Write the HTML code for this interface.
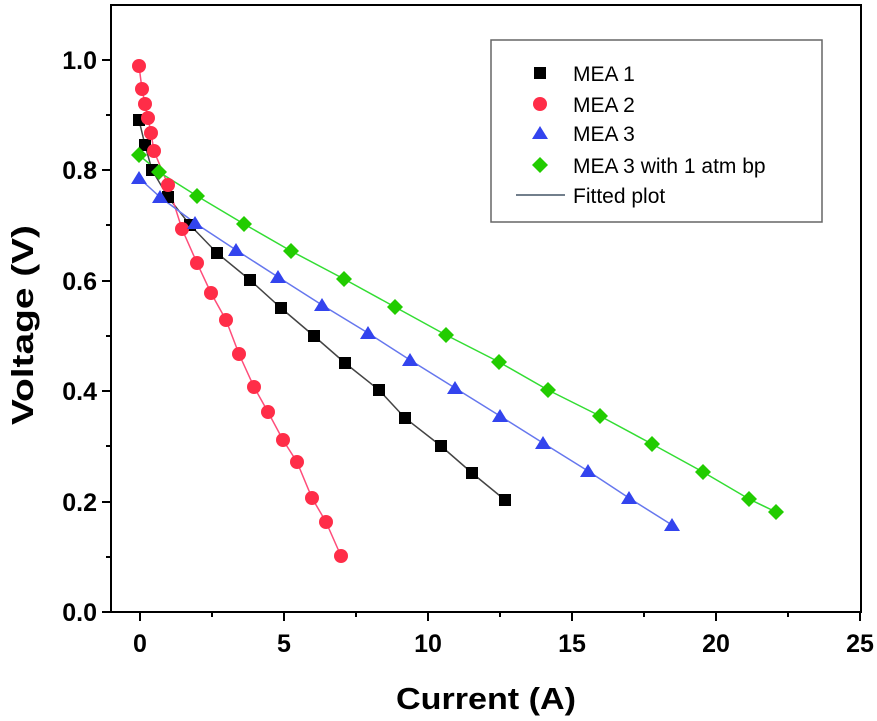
<!DOCTYPE html>
<html><head><style>body{margin:0;background:#fff}svg{display:block}</style></head><body>
<svg width="877" height="721" xmlns="http://www.w3.org/2000/svg" font-family="Liberation Sans, sans-serif">
<rect x="111" y="5" width="750" height="607" fill="none" stroke="#000" stroke-width="2"/>
<g stroke="#000" stroke-width="2">
<line x1="140" y1="612" x2="140" y2="621"/><line x1="284" y1="612" x2="284" y2="621"/><line x1="428" y1="612" x2="428" y2="621"/><line x1="572" y1="612" x2="572" y2="621"/><line x1="716" y1="612" x2="716" y2="621"/><line x1="860" y1="612" x2="860" y2="621"/>
<line x1="212" y1="612" x2="212" y2="617"/><line x1="356" y1="612" x2="356" y2="617"/><line x1="500" y1="612" x2="500" y2="617"/><line x1="644" y1="612" x2="644" y2="617"/><line x1="788" y1="612" x2="788" y2="617"/>
<line x1="102" y1="612" x2="111" y2="612"/><line x1="102" y1="502" x2="111" y2="502"/><line x1="102" y1="391" x2="111" y2="391"/><line x1="102" y1="281" x2="111" y2="281"/><line x1="102" y1="170" x2="111" y2="170"/><line x1="102" y1="60" x2="111" y2="60"/>
<line x1="106" y1="557" x2="111" y2="557"/><line x1="106" y1="446" x2="111" y2="446"/><line x1="106" y1="336" x2="111" y2="336"/><line x1="106" y1="225" x2="111" y2="225"/><line x1="106" y1="115" x2="111" y2="115"/>
</g>
<g font-weight="bold" font-size="25" text-anchor="end">
<text x="97" y="621">0.0</text><text x="97" y="511">0.2</text><text x="97" y="400">0.4</text><text x="97" y="290">0.6</text><text x="97" y="179">0.8</text><text x="97" y="69">1.0</text>
</g>
<g font-weight="bold" font-size="25" text-anchor="middle">
<text x="140" y="652">0</text><text x="284" y="652">5</text><text x="428" y="652">10</text><text x="572" y="652">15</text><text x="716" y="652">20</text><text x="860" y="652">25</text>
</g>
<g font-weight="bold" font-size="31">
<text x="396" y="709" textLength="180" lengthAdjust="spacingAndGlyphs">Current (A)</text>
<text transform="translate(33,425) rotate(-90)" textLength="200" lengthAdjust="spacingAndGlyphs">Voltage (V)</text>
</g>
<polyline fill="none" stroke="#444" stroke-width="1.5" points="139,120 145,145 152,170 168,197 190,225 217,253 250,280 281,308 314,336 345,363 379,390 405,418 441,446 472,473 505,500"/>
<polyline fill="none" stroke="#ff4d7a" stroke-width="1.5" points="139,66 142,89 145,104 148,118 151,133 154,151 168,185 182,229 197,263 211,293 226,320 239,354 254,387 268,412 283,440 297,462 312,498 326,522 341,556"/>
<polyline fill="none" stroke="#6677ee" stroke-width="1.5" points="139,178 160,197 195,223 236,250 278,277 322,305 368,333 410,360 455,388 500,416 543,443 588,471 629,498 672,525"/>
<polyline fill="none" stroke="#33dd33" stroke-width="1.5" points="139,155 159,172 197,196 244,224 291,251 344,279 395,307 446,335 499,362 548,390 600,416 652,444 703,472 749,499 776,512"/>
<g fill="#000">
<rect x="133" y="114" width="12" height="12"/><rect x="139" y="139" width="12" height="12"/><rect x="146" y="164" width="12" height="12"/><rect x="162" y="191" width="12" height="12"/><rect x="184" y="219" width="12" height="12"/><rect x="211" y="247" width="12" height="12"/><rect x="244" y="274" width="12" height="12"/><rect x="275" y="302" width="12" height="12"/><rect x="308" y="330" width="12" height="12"/><rect x="339" y="357" width="12" height="12"/><rect x="373" y="384" width="12" height="12"/><rect x="399" y="412" width="12" height="12"/><rect x="435" y="440" width="12" height="12"/><rect x="466" y="467" width="12" height="12"/><rect x="499" y="494" width="12" height="12"/>
</g>
<g fill="#ff2d48">
<circle cx="139" cy="66" r="7"/><circle cx="142" cy="89" r="7"/><circle cx="145" cy="104" r="7"/><circle cx="148" cy="118" r="7"/><circle cx="151" cy="133" r="7"/><circle cx="154" cy="151" r="7"/><circle cx="168" cy="185" r="7"/><circle cx="182" cy="229" r="7"/><circle cx="197" cy="263" r="7"/><circle cx="211" cy="293" r="7"/><circle cx="226" cy="320" r="7"/><circle cx="239" cy="354" r="7"/><circle cx="254" cy="387" r="7"/><circle cx="268" cy="412" r="7"/><circle cx="283" cy="440" r="7"/><circle cx="297" cy="462" r="7"/><circle cx="312" cy="498" r="7"/><circle cx="326" cy="522" r="7"/><circle cx="341" cy="556" r="7"/>
</g>
<g fill="#3344ee">
<path d="M139,171l8,13h-16z"/><path d="M160,190l8,13h-16z"/><path d="M195,216l8,13h-16z"/><path d="M236,243l8,13h-16z"/><path d="M278,270l8,13h-16z"/><path d="M322,298l8,13h-16z"/><path d="M368,326l8,13h-16z"/><path d="M410,353l8,13h-16z"/><path d="M455,381l8,13h-16z"/><path d="M500,409l8,13h-16z"/><path d="M543,436l8,13h-16z"/><path d="M588,464l8,13h-16z"/><path d="M629,491l8,13h-16z"/><path d="M672,518l8,13h-16z"/>
</g>
<g fill="#22cc00">
<path d="M139,147l8,8-8,8-8-8z"/><path d="M159,164l8,8-8,8-8-8z"/><path d="M197,188l8,8-8,8-8-8z"/><path d="M244,216l8,8-8,8-8-8z"/><path d="M291,243l8,8-8,8-8-8z"/><path d="M344,271l8,8-8,8-8-8z"/><path d="M395,299l8,8-8,8-8-8z"/><path d="M446,327l8,8-8,8-8-8z"/><path d="M499,354l8,8-8,8-8-8z"/><path d="M548,382l8,8-8,8-8-8z"/><path d="M600,408l8,8-8,8-8-8z"/><path d="M652,436l8,8-8,8-8-8z"/><path d="M703,464l8,8-8,8-8-8z"/><path d="M749,491l8,8-8,8-8-8z"/><path d="M776,504l8,8-8,8-8-8z"/>
</g>
<rect x="491" y="40" width="331" height="182" fill="#fff" stroke="#666" stroke-width="1.5"/>
<rect x="534" y="67" width="12" height="12" fill="#000"/>
<circle cx="540" cy="104" r="7" fill="#ff2d48"/>
<path d="M540,126l8,13h-16z" fill="#3344ee"/>
<path d="M540,157l8,8-8,8-8-8z" fill="#22cc00"/>
<line x1="516" y1="195" x2="565" y2="195" stroke="#445566" stroke-width="1.5"/>
<g font-size="21" fill="#000">
<text x="573" y="81">MEA 1</text><text x="573" y="112">MEA 2</text><text x="573" y="141">MEA 3</text><text x="573" y="173">MEA 3 with 1 atm bp</text><text x="573" y="203">Fitted plot</text>
</g>
</svg>
</body></html>
